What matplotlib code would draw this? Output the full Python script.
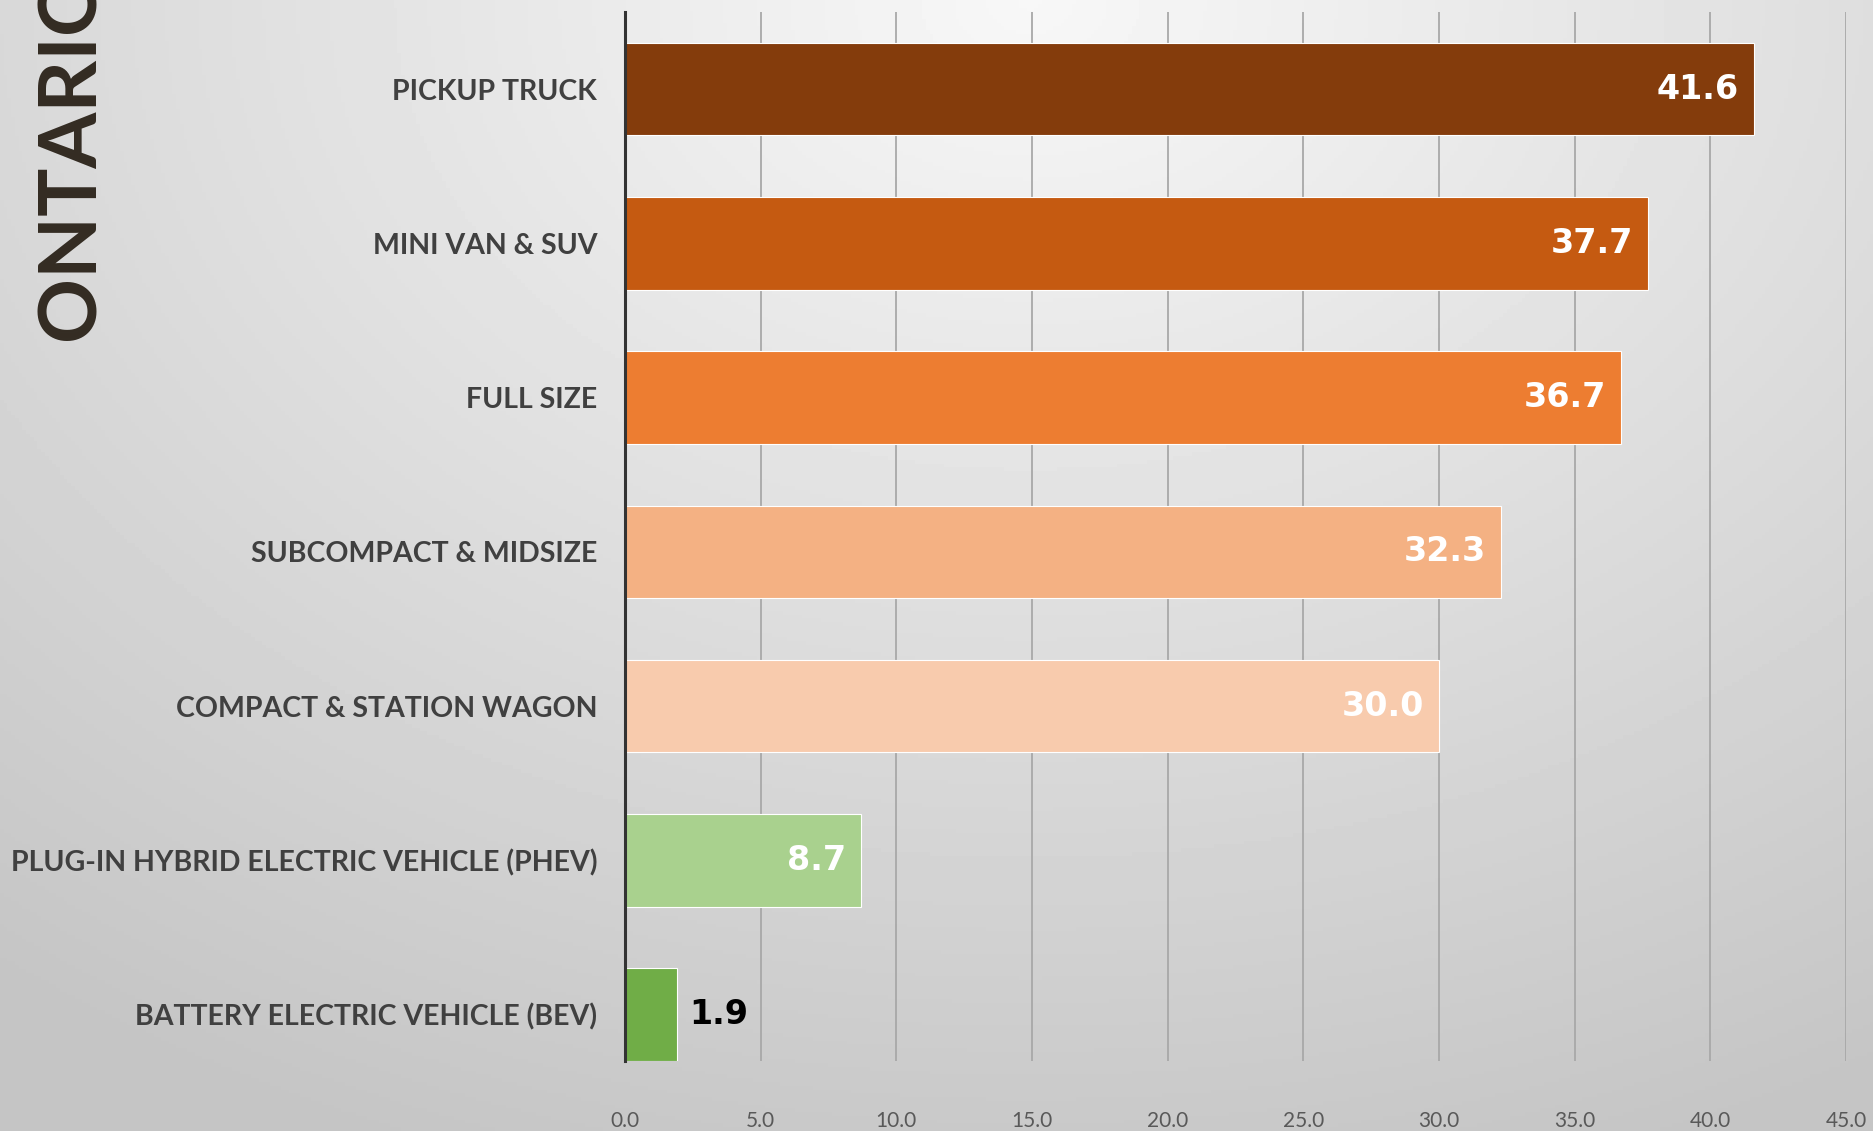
import numpy as np
import matplotlib
matplotlib.use("Agg")
import matplotlib.pyplot as plt

## DATA
categories = ["PICKUP TRUCK", "MINI VAN & SUV", "FULL SIZE", "SUBCOMPACT & MIDSIZE",
              "COMPACT & STATION WAGON", "PLUG-IN HYBRID ELECTRIC VEHICLE (PHEV)",
              "BATTERY ELECTRIC VEHICLE (BEV)"]
values = [41.6, 37.7, 36.7, 32.3, 30.0, 8.7, 1.9]
bar_colors = ["#843C0C", "#C55A11", "#ED7D31", "#F4B183", "#F8CBAD", "#A9D18E", "#70AD47"]
xticks = np.arange(0, 50, 5)

W, H = 1874, 1131
fig = plt.figure(figsize=(W / 100, H / 100), dpi=100)

# background gradient (light at top middle, darker toward edges / bottom)
bg = fig.add_axes([0, 0, 1, 1], zorder=-10)
yy, xx = np.mgrid[0:1:300j, 0:1:500j]
d = np.sqrt(((xx - 0.55) / 0.9) ** 2 + ((yy - 0.0) / 1.1) ** 2)
shade = 0.97 - 0.2 * np.clip(d, 0, 1)
bg.imshow(shade, cmap="gray", vmin=0, vmax=1, aspect="auto", extent=[0, 1, 1, 0])
bg.axis("off")

ax = fig.add_axes([625 / W, 70 / H, (1846 - 625) / W, (1119 - 70) / H])
ax.patch.set_alpha(0)

y = np.arange(len(categories))
ax.barh(y, values, height=0.6, color=bar_colors, edgecolor="white", linewidth=0.8, zorder=3)

for yi, v in zip(y, values):
    if v > 5:
        ax.text(v - 0.55, yi, f"{v:.1f}", ha="right", va="center", color="white",
                fontsize=24, fontweight="bold", family="DejaVu Sans", zorder=4)
    else:
        ax.text(v + 0.45, yi, f"{v:.1f}", ha="left", va="center", color="black",
                fontsize=24, fontweight="bold", family="DejaVu Sans", zorder=4)

ax.set_xlim(0, 45)
ax.set_ylim(6.3, -0.5)
ax.set_xticks(xticks)
ax.set_xticklabels([f"{t:.1f}" for t in xticks], fontsize=15, color="#595959", family="Lato")
ax.set_yticks(y)
ax.set_yticklabels(categories, fontsize=20.5, fontweight="bold", color="#404040", family="Lato")
ax.tick_params(axis="both", length=0)
ax.tick_params(axis="x", pad=36)
ax.tick_params(axis="y", pad=20)

ax.grid(axis="x", color="#a8a8a8", linewidth=1.3, zorder=0)
for s in ["top", "right", "bottom"]:
    ax.spines[s].set_visible(False)
ax.spines["left"].set_color("#333333")
ax.spines["left"].set_linewidth(2.2)
ax.spines["left"].set_zorder(5)

fig.text(72 / W, 1 - 340 / H, "ONTARIO", rotation=90, ha="center", va="bottom",
         fontsize=58, fontweight="bold", color="#332b22", family="Lato")

fig.savefig("out.png", dpi=100)
